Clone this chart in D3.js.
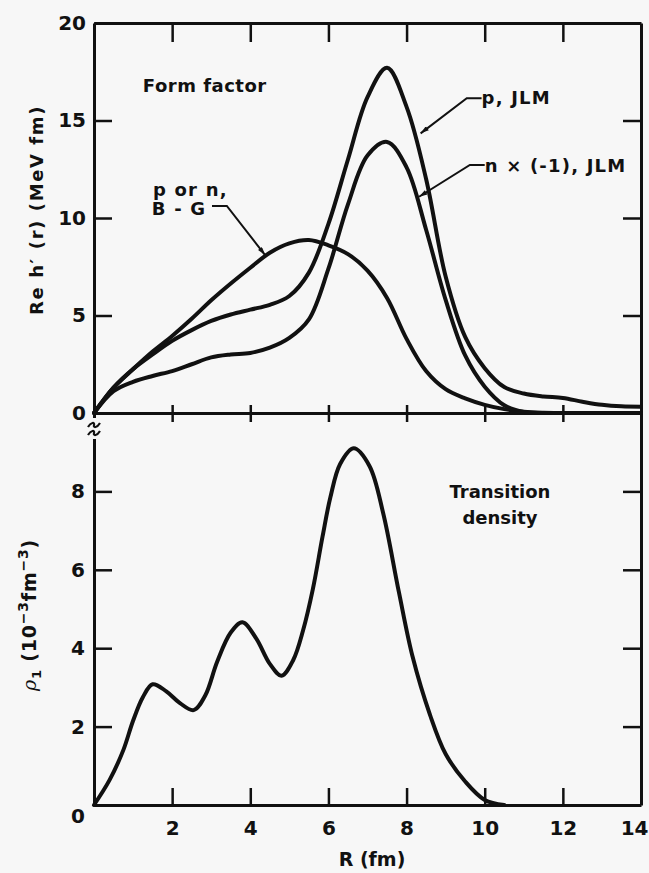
<!DOCTYPE html>
<html>
<head>
<meta charset="utf-8">
<script src="https://cdn.jsdelivr.net/npm/d3@7"></script>
<style>
  html, body { margin: 0; padding: 0; background: #f7f7f7; }
  svg { display: block; }
  text { font-family: "DejaVu Sans", "Liberation Sans", sans-serif; font-weight: bold; fill: #111; }
</style>
</head>
<body>
<div id="chart"></div>
<script>
// ---------------- data ----------------
const R_TOP = [0, 0.5, 1, 1.5, 2, 2.5, 3, 3.5, 4, 4.5, 5, 5.5, 6, 6.5, 7, 7.5, 8, 8.5, 9, 9.5, 10, 10.5, 11, 11.5, 12, 12.5, 13, 13.5, 14];
const P_JLM = [0, 1.3, 2.25, 3.0, 3.7, 4.25, 4.72, 5.05, 5.3, 5.55, 6.0, 7.2, 9.7, 13.0, 16.2, 17.7, 15.7, 12.0, 7.0, 3.9, 2.3, 1.33, 1.0, 0.85, 0.77, 0.58, 0.42, 0.34, 0.32];
const N_JLM = [0, 1.12, 1.6, 1.9, 2.15, 2.5, 2.85, 3.0, 3.08, 3.35, 3.85, 4.8, 7.4, 10.7, 13.2, 13.9, 12.6, 9.4, 5.8, 2.95, 1.35, 0.4, 0.05, 0, 0, 0, 0, 0, 0];
const BG    = [0, 1.3, 2.25, 3.15, 3.95, 4.83, 5.78, 6.64, 7.45, 8.22, 8.7, 8.87, 8.6, 8.15, 7.3, 5.9, 3.8, 2.15, 1.22, 0.75, 0.42, 0.2, 0.06, 0.01, 0, 0, 0, 0, 0];

const R_RHO = [0, 0.4, 0.75, 1.0, 1.25, 1.5, 1.85, 2.2, 2.55, 2.85, 3.15, 3.5, 3.8, 4.15, 4.5, 4.8, 5.1, 5.35, 5.6, 5.85, 6.05, 6.3, 6.65, 7.05, 7.4, 7.8, 8.15, 8.6, 9.0, 9.5, 10.0, 10.5];
const RHO   = [0, 0.64, 1.4, 2.15, 2.75, 3.08, 2.9, 2.6, 2.42, 2.8, 3.65, 4.4, 4.66, 4.25, 3.6, 3.3, 3.7, 4.45, 5.5, 6.85, 7.85, 8.7, 9.1, 8.65, 7.45, 5.45, 3.8, 2.3, 1.3, 0.6, 0.13, 0];

const X_TICKS = [2, 4, 6, 8, 10, 12, 14];
const X_INNER_TICKS = [2, 4, 6, 8, 10, 12];
const Y_TOP_TICKS = [0, 5, 10, 15, 20];
const Y_TOP_INNER = [5, 10, 15];
const Y_BOT_TICKS = [0, 2, 4, 6, 8];
const Y_BOT_INNER = [2, 4, 6, 8];

// ---------------- layout ----------------
const W = 649, H = 873;
const x = d3.scaleLinear().domain([0, 14]).range([94, 641]);
const yTop = d3.scaleLinear().domain([0, 20]).range([413, 23]);
const yBot = d3.scaleLinear().domain([0, 10]).range([805, 413]);

const svg = d3.select("#chart").append("svg").attr("width", W).attr("height", H);
svg.append("rect").attr("width", W).attr("height", H).attr("fill", "#f7f7f7");

const AX_W = 3, TICK_W = 2.5;
function styleAxis(g) {
  g.selectAll(".domain").attr("stroke", "#111").attr("stroke-width", AX_W);
  g.selectAll(".tick line").attr("stroke", "#111").attr("stroke-width", TICK_W);
  g.selectAll(".tick text").attr("font-size", 20).attr("font-family", "DejaVu Sans, sans-serif").attr("font-weight", "bold").attr("fill", "#111");
}
const blank = () => "";

// top panel left
svg.append("g").attr("transform", `translate(${x(0)},0)`)
  .call(d3.axisLeft(yTop).tickValues(Y_TOP_TICKS).tickSize(-18).tickSizeOuter(0).tickPadding(8).tickFormat(d3.format("d")))
  .call(styleAxis);
// top panel right
svg.append("g").attr("transform", `translate(${x(14)},0)`)
  .call(d3.axisRight(yTop).tickValues(Y_TOP_INNER).tickSize(-18).tickSizeOuter(0).tickFormat(blank))
  .call(styleAxis);
// top edge
svg.append("g").attr("transform", `translate(0,${yTop(20)})`)
  .call(d3.axisTop(x).tickValues(X_INNER_TICKS).tickSize(-19).tickSizeOuter(0).tickFormat(blank))
  .call(styleAxis);
// middle line (ticks both ways)
svg.append("g").attr("transform", `translate(0,${yTop(0)})`)
  .call(d3.axisBottom(x).tickValues(X_INNER_TICKS).tickSize(9).tickSizeOuter(0).tickFormat(blank))
  .call(styleAxis);
svg.append("g").attr("transform", `translate(0,${yTop(0)})`)
  .call(d3.axisBottom(x).tickValues(X_INNER_TICKS).tickSize(-8).tickSizeOuter(0).tickFormat(blank))
  .call(styleAxis);
// bottom panel left
const gBL = svg.append("g").attr("transform", `translate(${x(0)},0)`)
  .call(d3.axisLeft(yBot).tickValues(Y_BOT_TICKS).tickSize(-18).tickSizeOuter(0).tickPadding(9).tickFormat(d3.format("d")))
  .call(styleAxis);
gBL.selectAll(".tick text").filter(d => d === 0).attr("dy", "0.85em");
// bottom panel right
svg.append("g").attr("transform", `translate(${x(14)},0)`)
  .call(d3.axisRight(yBot).tickValues(Y_BOT_INNER).tickSize(-18).tickSizeOuter(0).tickFormat(blank))
  .call(styleAxis);
// bottom axis
svg.append("g").attr("transform", `translate(0,${yBot(0)})`)
  .call(d3.axisBottom(x).tickValues(X_TICKS).tickSize(-17).tickSizeOuter(0).tickPadding(16).tickFormat(d3.format("d")))
  .call(styleAxis)
  .call(g => {
    const last = g.selectAll(".tick").filter(d => d === 14);
    last.select("line").remove();
    last.select("text").attr("text-anchor", "end").attr("x", W - 1 - x(14));
  });

// axis break on left axis
const bx = x(0);
svg.append("rect").attr("x", bx - 4).attr("y", 418).attr("width", 8).attr("height", 21).attr("fill", "#f7f7f7");
[425, 433].forEach(yy => {
  svg.append("path")
    .attr("d", `M${bx - 6},${yy + 2} C${bx - 3},${yy - 3} ${bx + 1},${yy - 3} ${bx},${yy} S${bx + 3},${yy + 3} ${bx + 6},${yy - 2}`)
    .attr("fill", "none").attr("stroke", "#111").attr("stroke-width", 2.2);
});

// ---------------- curves ----------------
const lineTop = d3.line().x(d => x(d[0])).y(d => yTop(d[1])).curve(d3.curveCatmullRom.alpha(0.5));
const lineBot = d3.line().x(d => x(d[0])).y(d => yBot(d[1])).curve(d3.curveCatmullRom.alpha(0.5));
const CURVE_W = 4;
[P_JLM, N_JLM, BG].forEach(vals => {
  svg.append("path").datum(R_TOP.map((r, i) => [r, vals[i]]))
    .attr("d", lineTop).attr("fill", "none").attr("stroke", "#111")
    .attr("stroke-width", CURVE_W).attr("stroke-linejoin", "round").attr("stroke-linecap", "round");
});
svg.append("path").datum(R_RHO.map((r, i) => [r, RHO[i]]))
  .attr("d", lineBot).attr("fill", "none").attr("stroke", "#111")
  .attr("stroke-width", CURVE_W).attr("stroke-linejoin", "round").attr("stroke-linecap", "round");

// ---------------- annotations ----------------
svg.append("defs").append("marker")
  .attr("id", "arr").attr("viewBox", "0 0 10 6").attr("refX", 10).attr("refY", 3)
  .attr("markerWidth", 10).attr("markerHeight", 5).attr("markerUnits", "userSpaceOnUse")
  .attr("orient", "auto")
  .append("path").attr("d", "M0,0 L10,3 L0,6 Z").attr("fill", "#111");

const leader = d3.line().x(d => x(d[0])).y(d => yTop(d[1]));
const LEADERS = [
  [[3.02, 10.62], [3.40, 10.62], [4.38, 8.1]],
  [[9.92, 16.14], [9.54, 16.14], [8.36, 14.34]],
  [[10.0, 12.72], [9.62, 12.72], [8.32, 11.09]]
];
LEADERS.forEach(pts => {
  svg.append("path").datum(pts).attr("d", leader)
    .attr("fill", "none").attr("stroke", "#111").attr("stroke-width", 2)
    .attr("marker-end", "url(#arr)");
});

function label(txt, xx, yy, opts = {}) {
  return svg.append("text").attr("x", xx).attr("y", yy)
    .attr("font-size", opts.size || 18)
    .attr("letter-spacing", opts.ls || 0)
    .attr("text-anchor", opts.anchor || "start")
    .text(txt);
}
label("Form factor", x(1.25), yTop(16.46), { ls: 0.5 });
label("p or n,", x(1.51), yTop(11.15), { ls: 1.2 });
label("B - G", x(1.48), yTop(10.15), { ls: 1.2 });
label("p, JLM", x(9.92), yTop(15.85), { ls: 1.2 });
label("n × (-1), JLM", x(10.0), yTop(12.36), { ls: 1.2 });
label("Transition", x(10.39), yBot(7.83), { anchor: "middle" });
label("density", x(10.39), yBot(7.17), { anchor: "middle" });

// axis titles
svg.append("text").attr("transform", "translate(43,210) rotate(-90)")
  .attr("text-anchor", "middle").attr("font-size", 18).attr("letter-spacing", 1.6)
  .text("Re h\u2032 (r) (MeV fm)");

const t2 = svg.append("text").attr("transform", "translate(36,615) rotate(-90)")
  .attr("text-anchor", "middle").attr("font-size", 19).attr("letter-spacing", 0.8);
t2.append("tspan").attr("font-style", "italic").attr("font-weight", "normal").attr("font-family", "DejaVu Serif, serif").text("\u03C1");
t2.append("tspan").attr("dy", 5).attr("font-size", 13).text("1");
t2.append("tspan").attr("dy", -5).text(" (10");
t2.append("tspan").attr("dy", -8).attr("font-size", 14).text("\u22123");
t2.append("tspan").attr("dy", 8).text("fm");
t2.append("tspan").attr("dy", -8).attr("font-size", 14).text("\u22123");
t2.append("tspan").attr("dy", 8).text(")");

svg.append("text").attr("x", 372).attr("y", 866).attr("text-anchor", "middle")
  .attr("font-size", 19).text("R (fm)");
</script>
</body>
</html>
